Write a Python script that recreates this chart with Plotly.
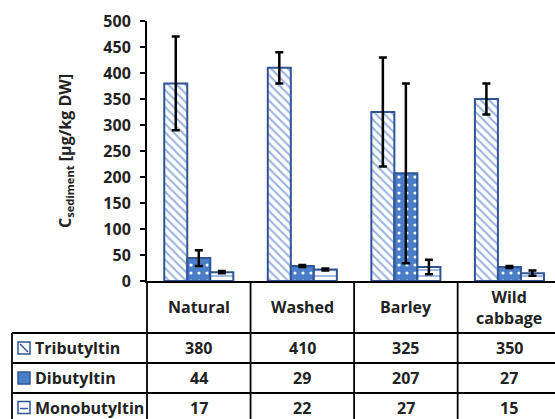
import plotly.graph_objects as go

# ---- data -------------------------------------------------------------
categories = ["Natural", "Washed", "Barley", "Wild cabbage"]
series_names = ["Tributyltin", "Dibutyltin", "Monobutyltin"]
tributyltin = [380, 410, 325, 350]
dibutyltin = [44, 29, 207, 27]
monobutyltin = [17, 22, 27, 15]
tributyltin_err = [90, 30, 105, 30]
dibutyltin_err = [15, 2, 173, 2]
monobutyltin_err = [2, 2, 14, 5]
y_ticks = [0, 50, 100, 150, 200, 250, 300, 350, 400, 450, 500]

# ---- figure geometry (pixels) -----------------------------------------
W, H = 555, 419
L, R, T, B = 147, 0, 21, 138
PW, PH = W - L - R, H - T - B
X0, X1 = -0.5, 3.44          # category axis range (last column runs off the edge)

FONT = "Open Sans"
EDGE = "#2F5597"
LIGHT = "#9AB3E0"
MID = "#4A7EC8"


def fx(px):
    return (px - L) / PW


def fy(py):
    return (H - B - py) / PH


def cat_x(pos):
    return (pos - X0) / (X1 - X0)


series_values = [tributyltin, dibutyltin, monobutyltin]
series_errors = [tributyltin_err, dibutyltin_err, monobutyltin_err]
patterns = [
    dict(shape="\\", fgcolor=LIGHT, bgcolor="white", size=6, solidity=0.35, fillmode="replace"),
    dict(shape=".", fgcolor="white", bgcolor=MID, size=8, solidity=0.12, fillmode="replace"),
    dict(shape="-", fgcolor=LIGHT, bgcolor="white", size=6, solidity=0.3, fillmode="replace"),
]

fig = go.Figure()
for name, vals, errs, pat in zip(series_names, series_values, series_errors, patterns):
    fig.add_trace(go.Bar(
        name=name,
        x=categories,
        y=vals,
        marker=dict(color=pat["bgcolor"], pattern=pat, line=dict(color=EDGE, width=2)),
        error_y=dict(type="data", array=errs, visible=True,
                     color="black", thickness=2.5, width=4),
    ))

shapes = []
ann = []
LINE = dict(color="black", width=1.8)

# table grid
header_bottom, row_lines, table_bottom = 333, [363, 393], 423
row_centers = [348, 378, 407.5]
left_edge = 12
for yy in [header_bottom] + row_lines:
    shapes.append(dict(type="line", xref="paper", yref="paper",
                       x0=fx(left_edge), x1=1, y0=fy(yy), y1=fy(yy), line=LINE))
shapes.append(dict(type="line", xref="paper", yref="paper",
                   x0=fx(left_edge), x1=fx(left_edge), y0=fy(header_bottom), y1=fy(table_bottom), line=LINE))
shapes.append(dict(type="line", xref="paper", yref="paper",
                   x0=0, x1=0, y0=0, y1=fy(table_bottom), line=LINE))
for i in range(len(categories) - 1):
    xs = cat_x(i + 0.5)
    shapes.append(dict(type="line", xref="paper", yref="paper",
                       x0=xs, x1=xs, y0=0, y1=fy(table_bottom), line=LINE))

# category header row
for i, c in enumerate(categories):
    ann.append(dict(x=cat_x(i), y=fy(307), xref="paper", yref="paper",
                    text=c.replace(" ", "<br>"), showarrow=False,
                    font=dict(family=FONT, size=16, color="#222", weight="bold"),
                    xanchor="center", yanchor="middle"))

# value rows with legend keys
for r, (name, vals) in enumerate(zip(series_names, series_values)):
    cy = row_centers[r]
    ann.append(dict(x=fx(33), y=fy(cy), xref="paper", yref="paper", text=name,
                    showarrow=False, xanchor="left", yanchor="middle",
                    font=dict(family=FONT, size=16, color="#222", weight="bold")))
    for i, v in enumerate(vals):
        ann.append(dict(x=cat_x(i), y=fy(cy), xref="paper", yref="paper", text=str(v),
                        showarrow=False, xanchor="center", yanchor="middle",
                        font=dict(family=FONT, size=16, color="#222", weight="bold")))
    fill = MID if r == 1 else "white"
    shapes.append(dict(type="rect", xref="paper", yref="paper",
                       x0=fx(18), x1=fx(30), y0=fy(cy - 6), y1=fy(cy + 6),
                       fillcolor=fill, line=dict(color=EDGE, width=1.5)))
    if r == 0:
        shapes.append(dict(type="line", xref="paper", yref="paper",
                           x0=fx(20), x1=fx(28), y0=fy(cy - 4), y1=fy(cy + 4),
                           line=dict(color=EDGE, width=1.5)))
    if r == 2:
        shapes.append(dict(type="line", xref="paper", yref="paper",
                           x0=fx(20), x1=fx(28), y0=fy(cy + 1), y1=fy(cy + 1),
                           line=dict(color=EDGE, width=1.5)))

# y-axis title
ann.append(dict(x=fx(65), y=0.5, xref="paper", yref="paper", textangle=-90,
                text="C<sub>sediment</sub> [μg/kg DW]", showarrow=False,
                xanchor="center", yanchor="middle",
                font=dict(family=FONT, size=16, color="#222", weight="bold")))

fig.update_layout(
    width=W, height=H,
    margin=dict(l=L, r=R, t=T, b=B, pad=0),
    paper_bgcolor="white", plot_bgcolor="white",
    barmode="group", bargap=0.333, bargroupgap=0,
    showlegend=False,
    shapes=shapes, annotations=ann,
    xaxis=dict(type="category", range=[X0, X1], showticklabels=False, ticks="",
               showline=True, linecolor="black", linewidth=2, showgrid=False, zeroline=False),
    yaxis=dict(range=[0, 500], tickvals=y_ticks, ticks="outside", ticklen=5, tickwidth=2,
               tickcolor="black", showline=True, linecolor="black", linewidth=2,
               showgrid=False, zeroline=False, ticklabelstandoff=6,
               tickfont=dict(family=FONT, size=16, color="#222", weight="bold")),
)

fig.write_html("out.html")
